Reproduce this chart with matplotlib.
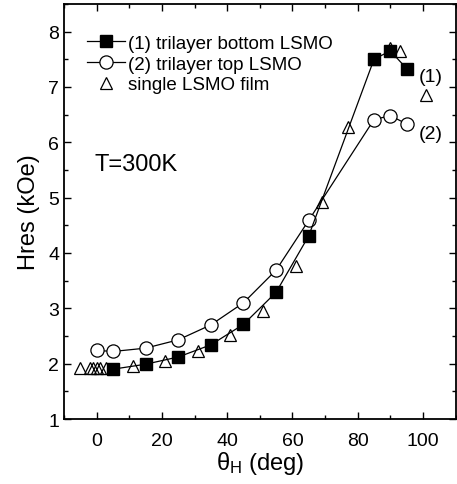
import numpy as np
import matplotlib
matplotlib.use("Agg")
from matplotlib import pyplot as plt

plt.rcParams['font.family'] = ['Liberation Sans', 'DejaVu Sans']
plt.rcParams['mathtext.fontset'] = 'custom'
plt.rcParams['mathtext.rm'] = 'Liberation Sans'
plt.rcParams['mathtext.it'] = 'Liberation Sans'

# (1) trilayer bottom LSMO
bottom_x = [5, 15, 25, 35, 45, 55, 65, 85, 90, 95]
bottom_y = [1.90, 1.99, 2.12, 2.34, 2.71, 3.29, 4.31, 7.50, 7.65, 7.33]

# (2) trilayer top LSMO
top_x = [0, 5, 15, 25, 35, 45, 55, 65, 85, 90, 95]
top_y = [2.24, 2.22, 2.28, 2.43, 2.70, 3.10, 3.69, 4.59, 6.41, 6.48, 6.33]

# single LSMO film
single_x = [-5, -2, -1, 0, 1, 3, 11, 21, 31, 41, 51, 61, 69, 77, 85, 90, 93, 101]
single_y = [1.92, 1.92, 1.92, 1.92, 1.92, 1.92, 1.95, 2.04, 2.22, 2.51, 2.96, 3.77,
            4.92, 6.27, 7.50, 7.70, 7.64, 6.86]

fig = plt.figure(figsize=(4.57, 4.85), dpi=100)
ax = fig.add_axes([0.140, 0.134, 0.857, 0.856])

ax.plot(bottom_x, bottom_y, '-s', color='black', lw=0.9, ms=8.5,
        mfc='black', mec='black', label='(1) trilayer bottom LSMO', zorder=3)
ax.plot(top_x, top_y, '-o', color='black', lw=0.9, ms=9.5,
        mfc='white', mec='black', mew=0.9, label='(2) trilayer top LSMO', zorder=2)
ax.plot(single_x, single_y, '^', ls='none', ms=9, mfc='none', mec='black',
        mew=0.9, label='single LSMO film', zorder=4)

ax.set_xlim(-10, 110)
ax.set_ylim(1, 8.5)
ax.set_xticks([0, 20, 40, 60, 80, 100])
ax.set_xticks(np.arange(-10, 111, 10), minor=True)
ax.set_yticks([1, 2, 3, 4, 5, 6, 7, 8])
ax.set_yticks(np.arange(1, 8.6, 0.5), minor=True)
ax.tick_params(which='both', direction='in', top=True, right=True, labelsize=14)
ax.tick_params(which='major', length=5, width=1)
ax.tick_params(which='minor', length=3, width=1)
ax.tick_params(axis='x', pad=9)
for s in ax.spines.values():
    s.set_linewidth(1.3)

ax.set_xlabel(r'$\theta_{\rm H}$ (deg)', fontsize=17, labelpad=0)
ax.set_ylabel('Hres (kOe)', fontsize=17, labelpad=6)

ax.text(-0.8, 5.61, 'T=300K', fontsize=17, va='center', ha='left')
ax.text(98.6, 7.18, '(1)', fontsize=14, va='center', ha='left')
ax.text(98.6, 6.15, '(2)', fontsize=14, va='center', ha='left')

leg = ax.legend(loc='upper left', bbox_to_anchor=(0.059, 0.926), frameon=False,
                fontsize=13.5, handlelength=2.0, handletextpad=0.2,
                labelspacing=0.2, borderaxespad=0, borderpad=0,
                markerscale=1.0)

fig.savefig('out.png', dpi=100)
